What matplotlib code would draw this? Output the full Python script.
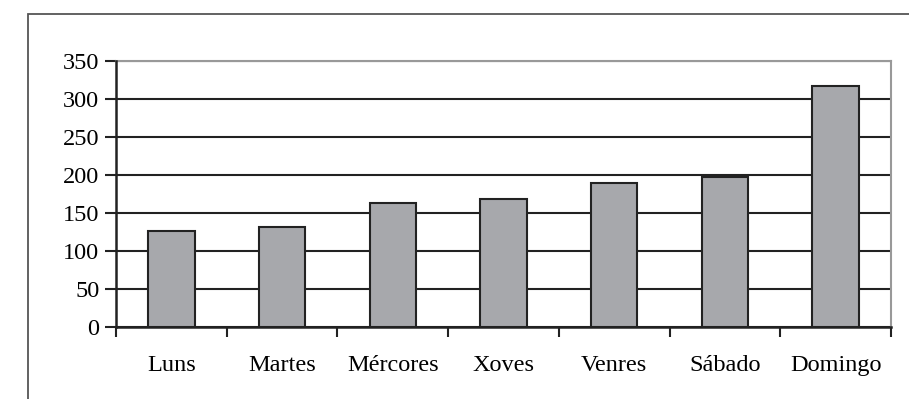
import matplotlib.pyplot as plt
from matplotlib.patches import Rectangle

dias = ["Luns", "Martes", "Mércores", "Xoves", "Venres", "Sábado", "Domingo"]
valores = [126, 131, 163, 168, 190, 197, 317]
yticks = [0, 50, 100, 150, 200, 250, 300, 350]

plt.rcParams['font.family'] = ['Liberation Serif', 'DejaVu Serif']

fig = plt.figure(figsize=(9.09, 3.99), dpi=100)
W, H = 909, 399
ax = fig.add_axes([116 / W, 1 - 327 / H, (891 - 116) / W, (327 - 61) / H])

# outer frame of the chart area
fig.patches.append(Rectangle((28 / W, -0.1), 1.2, 1 - 14 / H + 0.1,
                             transform=fig.transFigure, fill=False,
                             edgecolor="#555555", linewidth=1.3))

x = range(len(dias))
ax.bar(x, valores, width=0.42, color="#a7a8ac", edgecolor="#222222",
       linewidth=1.5, zorder=3)

ax.set_xlim(-0.5, len(dias) - 0.5)
ax.set_ylim(0, 350)
ax.set_yticks(yticks)
ax.set_yticklabels([str(v) for v in yticks], fontsize=17.5)
ax.yaxis.grid(True, color="#222222", linewidth=1.5, zorder=1)

ax.set_xticks([i - 0.5 for i in range(len(dias) + 1)])
ax.set_xticklabels([])
ax.set_xticks(list(x), minor=True)
ax.set_xticklabels(dias, minor=True, fontsize=17.5)
ax.tick_params(axis="x", which="minor", length=0, pad=20)
ax.tick_params(axis="x", which="major", length=7, width=1.5, direction="out", color="#222222")
ax.tick_params(axis="y", length=8, width=1.5, direction="out", color="#222222", pad=4)

for s in ["left", "bottom"]:
    ax.spines[s].set_color("#222222")
    ax.spines[s].set_linewidth(1.8)
    ax.spines[s].set_zorder(4)
for s in ["top", "right"]:
    ax.spines[s].set_color("#999999")
    ax.spines[s].set_linewidth(1.5)

fig.savefig("out.png", dpi=100)
